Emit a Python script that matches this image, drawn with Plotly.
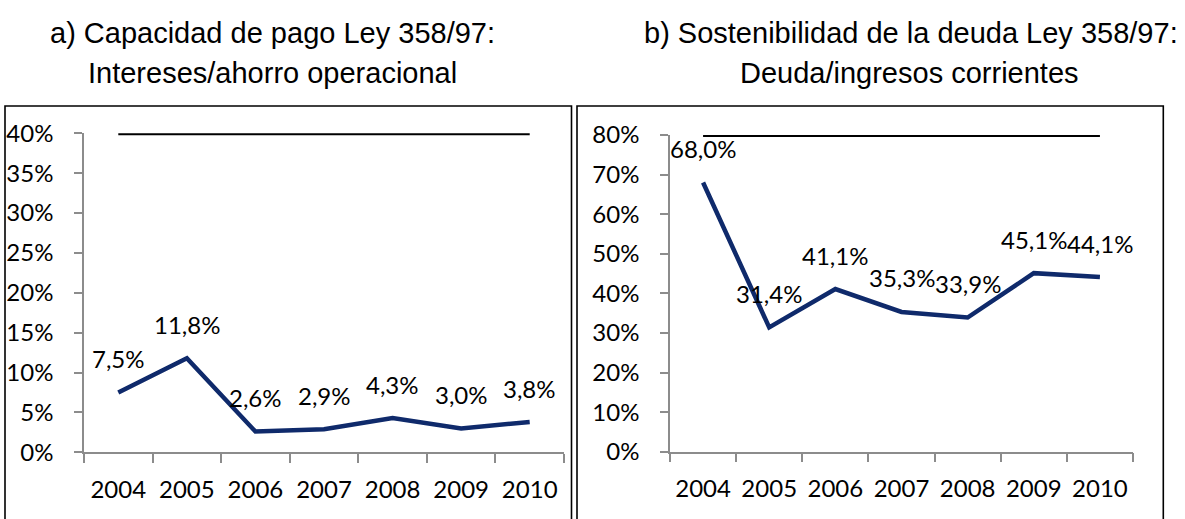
import plotly.graph_objects as go

years = ["2004", "2005", "2006", "2007", "2008", "2009", "2010"]
capacidad = [7.5, 11.8, 2.6, 2.9, 4.3, 3.0, 3.8]
limite_capacidad = [40, 40, 40, 40, 40, 40, 40]
sostenibilidad = [68.0, 31.4, 41.1, 35.3, 33.9, 45.1, 44.1]
limite_sostenibilidad = [80, 80, 80, 80, 80, 80, 80]
left_ticks = [0, 5, 10, 15, 20, 25, 30, 35, 40]
right_ticks = [0, 10, 20, 30, 40, 50, 60, 70, 80]

W, H = 1185, 519
NAVY = "#0f2a6b"
AXIS = "#8c8c8c"
TICKFONT = dict(family="Lato, Carlito, Calibri, sans-serif", size=24, color="#000000")
TITLEFONT = dict(family="Liberation Sans, Arial, sans-serif", size=29, color="#000000")

xs = list(range(len(years)))

fig = go.Figure()

# panel a
fig.add_trace(go.Scatter(x=xs, y=limite_capacidad, mode="lines",
                         line=dict(color="#000000", width=4),
                         xaxis="x", yaxis="y", hoverinfo="skip"))
fig.add_trace(go.Scatter(x=xs, y=capacidad, mode="lines",
                         line=dict(color=NAVY, width=4.5),
                         xaxis="x", yaxis="y"))
# panel b
fig.add_trace(go.Scatter(x=xs, y=limite_sostenibilidad, mode="lines",
                         line=dict(color="#000000", width=4),
                         xaxis="x2", yaxis="y2", hoverinfo="skip"))
fig.add_trace(go.Scatter(x=xs, y=sostenibilidad, mode="lines",
                         line=dict(color=NAVY, width=4.5),
                         xaxis="x2", yaxis="y2"))


def fmt(v):
    return f"{v:.1f}".replace(".", ",") + "%"


annotations = []
for xi, v in zip(xs, capacidad):
    annotations.append(dict(x=xi, y=v, xref="x", yref="y", text=fmt(v),
                            showarrow=False, yshift=34, font=TICKFONT))
for xi, v in zip(xs, sostenibilidad):
    annotations.append(dict(x=xi, y=v, xref="x2", yref="y2", text=fmt(v),
                            showarrow=False, yshift=34, font=TICKFONT))

# titles
annotations += [
    dict(x=272 / W, y=1 - 33 / H, xref="paper", yref="paper",
         text="a) Capacidad de pago Ley 358/97:", showarrow=False,
         xanchor="center", yanchor="middle", font=TITLEFONT),
    dict(x=272 / W, y=1 - 73 / H, xref="paper", yref="paper",
         text="Intereses/ahorro operacional", showarrow=False,
         xanchor="center", yanchor="middle", font=TITLEFONT),
    dict(x=911 / W, y=1 - 33 / H, xref="paper", yref="paper",
         text="b) Sostenibilidad de la deuda Ley 358/97:", showarrow=False,
         xanchor="center", yanchor="middle", font=TITLEFONT),
    dict(x=910 / W, y=1 - 73 / H, xref="paper", yref="paper",
         text="Deuda/ingresos corrientes", showarrow=False,
         xanchor="center", yanchor="middle", font=TITLEFONT),
]

shapes = [
    dict(type="rect", xref="paper", yref="paper",
         x0=5 / W, x1=571.5 / W, y0=-0.1, y1=1 - 106 / H,
         line=dict(color="#000000", width=1.6), fillcolor="rgba(0,0,0,0)"),
    dict(type="rect", xref="paper", yref="paper",
         x0=577 / W, x1=1163.3 / W, y0=-0.1, y1=1 - 106 / H,
         line=dict(color="#000000", width=1.6), fillcolor="rgba(0,0,0,0)"),
]


def xaxis_cfg(domain, anchor):
    return dict(domain=domain, anchor=anchor, range=[-0.5, len(years) - 0.5],
                tickmode="array", tickvals=xs, ticktext=years, ticks="",
                showline=True, linecolor=AXIS, linewidth=1.5,
                showgrid=False, zeroline=False, tickfont=TICKFONT,
                ticklabelstandoff=15, fixedrange=True, automargin=False,
                minor=dict(tick0=-0.5, dtick=1, ticks="outside", ticklen=9,
                           tickcolor=AXIS, tickwidth=1.5, showgrid=False))


def yaxis_cfg(domain, anchor, rng, tickvals):
    return dict(domain=domain, anchor=anchor, range=rng,
                tickmode="array", tickvals=tickvals,
                ticktext=[f"{t}%" for t in tickvals],
                ticks="outside", ticklen=8, tickcolor=AXIS, tickwidth=1.5,
                showline=True, linecolor=AXIS, linewidth=1.5,
                showgrid=False, zeroline=False, tickfont=TICKFONT,
                ticklabelstandoff=16, fixedrange=True, automargin=False)


fig.update_layout(
    template="none",
    width=W, height=H,
    margin=dict(l=0, r=0, t=0, b=0, pad=0, autoexpand=False),
    paper_bgcolor="#ffffff", plot_bgcolor="rgba(0,0,0,0)",
    showlegend=False,
    xaxis=xaxis_cfg([84 / W, 564 / W], "y"),
    yaxis=yaxis_cfg([1 - 452.3 / H, 1 - 133.3 / H], "x", [0, 40], left_ticks),
    xaxis2=xaxis_cfg([670 / W, 1133 / W], "y2"),
    yaxis2=yaxis_cfg([1 - 451.7 / H, 1 - 135 / H], "x2", [0, 80], right_ticks),
    annotations=annotations,
    shapes=shapes,
)

post = (
    "document.documentElement.style.margin='0';"
    "document.documentElement.style.overflow='hidden';"
    "document.body.style.margin='0';"
    "document.body.style.padding='0';"
    "document.body.style.overflow='hidden';"
    "var d=document.getElementById('{plot_id}');"
    "d.style.position='fixed';d.style.left='0px';d.style.top='0px';"
)

fig.write_html(
    "out.html",
    config={"displayModeBar": False},
    post_script=post,
)
